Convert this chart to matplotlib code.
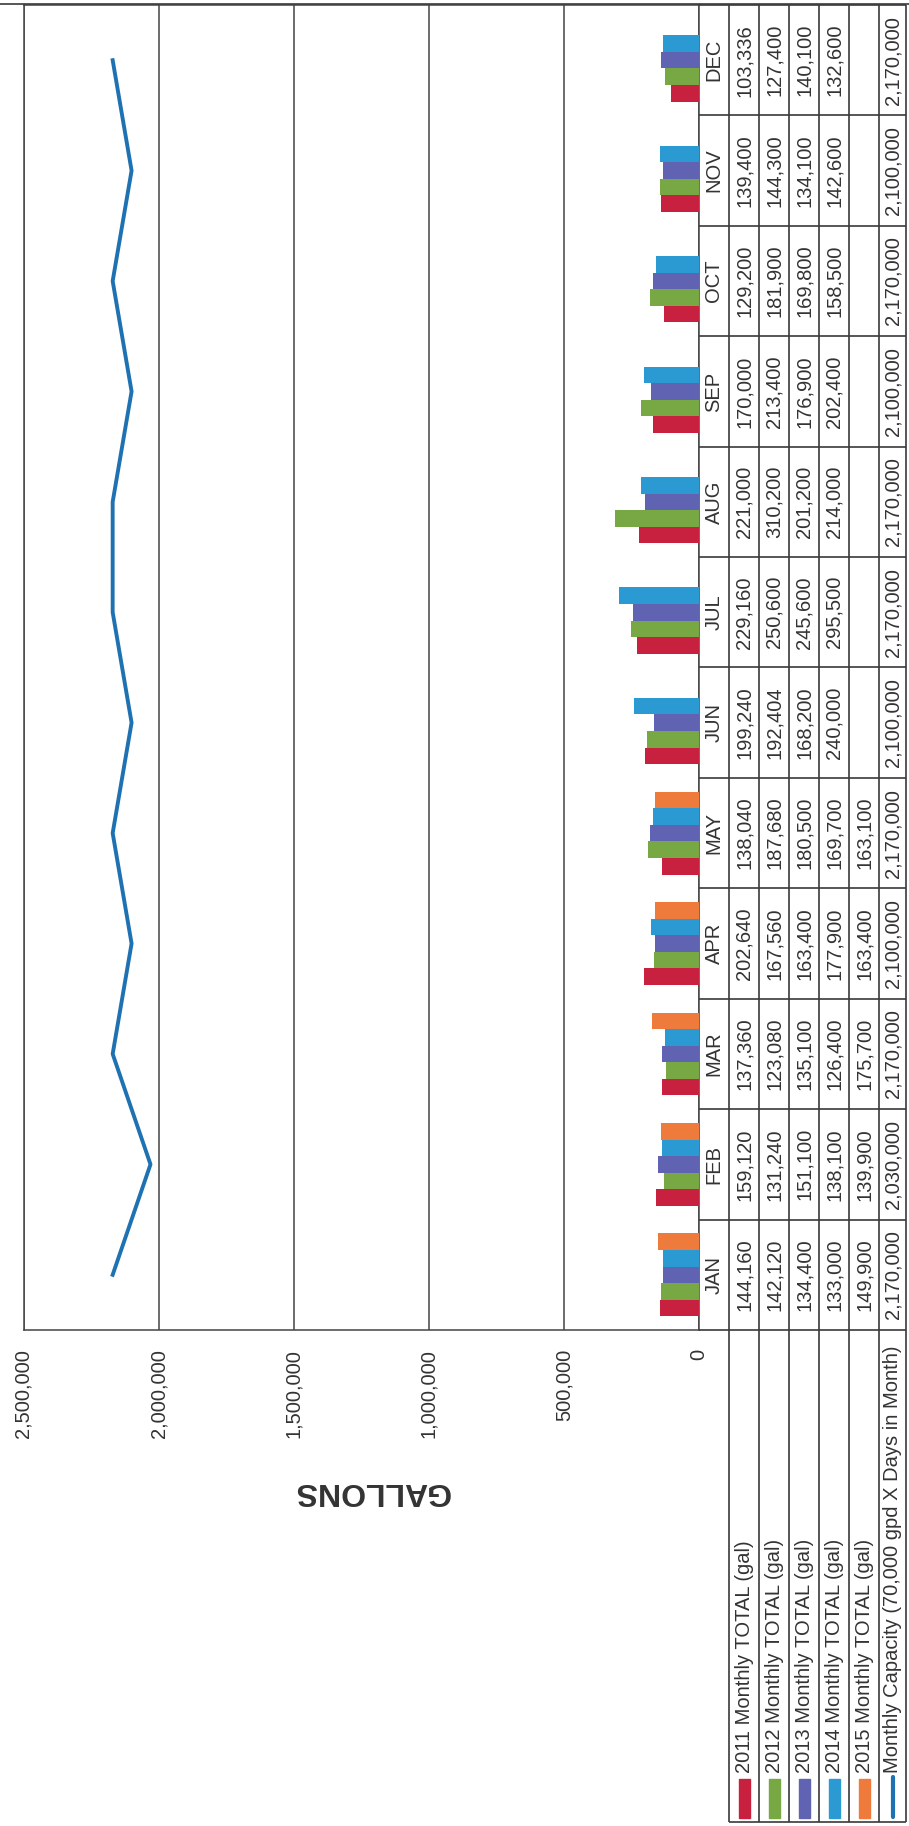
import numpy as np
import matplotlib.pyplot as plt
from matplotlib.ticker import FuncFormatter, MultipleLocator
from matplotlib.patches import Rectangle

plt.rcParams['font.family'] = ['Liberation Sans', 'DejaVu Sans']

months = ['JAN', 'FEB', 'MAR', 'APR', 'MAY', 'JUN',
          'JUL', 'AUG', 'SEP', 'OCT', 'NOV', 'DEC']
total_2011 = [144160, 159120, 137360, 202640, 138040, 199240,
              229160, 221000, 170000, 129200, 139400, 103336]
total_2012 = [142120, 131240, 123080, 167560, 187680, 192404,
              250600, 310200, 213400, 181900, 144300, 127400]
total_2013 = [134400, 151100, 135100, 163400, 180500, 168200,
              245600, 201200, 176900, 169800, 134100, 140100]
total_2014 = [133000, 138100, 126400, 177900, 169700, 240000,
              295500, 214000, 202400, 158500, 142600, 132600]
total_2015 = [149900, 139900, 175700, 163400, 163100, None,
              None, None, None, None, None, None]
capacity = [2170000, 2030000, 2170000, 2100000, 2170000, 2100000,
            2170000, 2170000, 2100000, 2170000, 2100000, 2170000]

series_names = ['2011 Monthly TOTAL (gal)', '2012 Monthly TOTAL (gal)',
                '2013 Monthly TOTAL (gal)', '2014 Monthly TOTAL (gal)',
                '2015 Monthly TOTAL (gal)']
series_vals = [total_2011, total_2012, total_2013, total_2014, total_2015]
series_colors = ['#c8203f', '#78a843', '#5f63b2', '#2b9ad2', '#ee7a3c']
cap_name = 'Monthly Capacity (70,000 gpd X Days in Month)'
cap_color = '#1f72b2'

W, H = 909, 1826
ink = '#333333'
fs = 14.5

# page is printed sideways: months run bottom -> top, gallons right -> left
PL, PR, PT, PB = 23.5, 699, 5, 1330
cols = [699, 729, 759, 789, 819, 849, 879, 906]
TB = 1822


def fx(px):
    return px / W


def fy(py):
    return 1 - py / H


fig = plt.figure(figsize=(W / 100, H / 100), dpi=100)
ax = fig.add_axes([fx(PL), fy(PB), fx(PR) - fx(PL), fy(PT) - fy(PB)])

idx = np.arange(len(months))
h = 0.15
for k, (vals, col) in enumerate(zip(series_vals, series_colors)):
    yy = [i + (k - 2) * h for i, v in enumerate(vals) if v is not None]
    vv = [v for v in vals if v is not None]
    ax.barh(yy, vv, height=h, color=col, zorder=3)

ax.plot(capacity, idx, color=cap_color, lw=2.8, zorder=4)

ax.set_xlim(2500000, 0)
ax.set_ylim(-0.5, len(months) - 0.5)
ax.xaxis.set_major_locator(MultipleLocator(500000))
ax.xaxis.set_major_formatter(FuncFormatter(lambda v, p: f'{int(v):,}'))
ax.set_yticks([])
ax.grid(axis='x', color='#444444', lw=1.1, zorder=1)
ax.tick_params(axis='x', length=0, pad=13.5, labelrotation=90,
               labelsize=fs, labelcolor=ink)
for s in ax.spines.values():
    s.set_color('#444444')
    s.set_linewidth(1.1)

fig.text(fx(372), fy(1491), 'GALLONS', rotation=180, ha='center',
         va='center', fontsize=23, fontweight='bold', color=ink)

# data table drawn in page pixel coordinates
tab = fig.add_axes([0, 0, 1, 1], zorder=5)
tab.set_xlim(0, W)
tab.set_ylim(H, 0)
tab.axis('off')
tab.patch.set_alpha(0)

lc = dict(color='#3a3a3a', lw=1.2)
tab.hlines(4.5, 0, W, **lc)
yb = np.linspace(PT, PB, len(months) + 1)
tab.hlines(yb, cols[0], cols[-1], **lc)
tab.vlines(cols[1:], PT, TB, **lc)
tab.hlines(TB, cols[1], cols[-1], **lc)

xc = [(a + b) / 2 for a, b in zip(cols[:-1], cols[1:])]
n = len(months)
for i, m in enumerate(months):
    yc = (yb[n - 1 - i] + yb[n - i]) / 2
    tab.text(xc[0], yc, m, rotation=90, ha='center', va='center',
             fontsize=fs, color=ink)
    for k, vals in enumerate(series_vals):
        if vals[i] is not None:
            tab.text(xc[k + 1], yc, f'{vals[i]:,}', rotation=90, ha='center',
                     va='center', fontsize=fs, color=ink)
    tab.text(xc[6], yc, f'{capacity[i]:,}', rotation=90, ha='center',
             va='center', fontsize=fs, color=ink)

# legend cells under the plot
for k, (name, col) in enumerate(zip(series_names, series_colors)):
    x = xc[k + 1]
    tab.add_patch(Rectangle((x - 5.5, 1779), 11, 39, color=col))
    tab.text(x, 1773, name, rotation=90, rotation_mode='anchor',
             ha='left', va='center', fontsize=fs, color=ink)
tab.plot([xc[6], xc[6]], [1777, 1817], color=cap_color, lw=3,
         solid_capstyle='round')
tab.text(xc[6], 1773, cap_name, rotation=90, rotation_mode='anchor',
         ha='left', va='center', fontsize=fs, color=ink)

fig.savefig('out.png', dpi=100)
